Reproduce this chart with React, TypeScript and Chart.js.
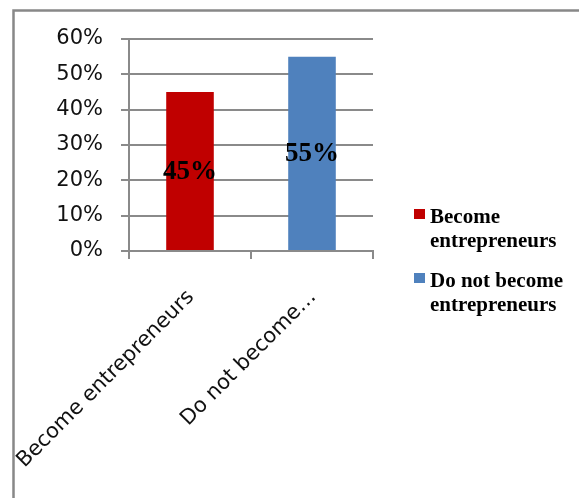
import React, { useEffect, useRef } from "react";
import { Chart, registerables } from "chart.js";

Chart.register(...registerables);

const categories = ["Become entrepreneurs", "Do not become entrepreneurs"];
const tickLabels = ["Become entrepreneurs", "Do not become…"];
const values = [0.45, 0.55];
const valueLabels = ["45%", "55%"];
const colors = ["#C00000", "#4F81BD"];
const legendLines = [["Become", "entrepreneurs"], ["Do not become", "entrepreneurs"]];

const GRID = "#8a8a8a";

const framePlugin = {
  id: "frame",
  beforeDraw(chart: any) {
    const ctx = chart.ctx;
    ctx.save();
    ctx.fillStyle = "#ffffff";
    ctx.fillRect(0, 0, chart.width, chart.height);
    ctx.strokeStyle = "#888888";
    ctx.lineWidth = 2.5;
    ctx.beginPath();
    ctx.moveTo(13.5, chart.height);
    ctx.lineTo(13.5, 10.5);
    ctx.lineTo(chart.width + 5, 10.5);
    ctx.stroke();
    ctx.restore();
  },
};

const valueLabelPlugin = {
  id: "valueLabels",
  afterDatasetsDraw(chart: any) {
    const ctx = chart.ctx;
    const meta = chart.getDatasetMeta(0);
    ctx.save();
    ctx.font = "bold 27px 'Liberation Serif', 'Times New Roman', serif";
    ctx.fillStyle = "#000000";
    ctx.textAlign = "center";
    ctx.textBaseline = "middle";
    meta.data.forEach((bar: any, i: number) => {
      ctx.fillText(valueLabels[i], bar.x, (bar.y + bar.base) / 2 + 1);
    });
    ctx.restore();
  },
};

const legendPlugin = {
  id: "customLegend",
  afterDraw(chart: any) {
    const ctx = chart.ctx;
    const area = chart.chartArea;
    const x0 = area.right + 41;
    const tops = [area.top + 170, area.top + 234];
    ctx.save();
    ctx.font = "bold 21px 'Liberation Serif', 'Times New Roman', serif";
    ctx.textBaseline = "alphabetic";
    ctx.textAlign = "left";
    legendLines.forEach((lines, i) => {
      ctx.fillStyle = colors[i];
      ctx.fillRect(x0, tops[i], 11, 10);
      ctx.fillStyle = "#000000";
      lines.forEach((line, j) => {
        ctx.fillText(line, x0 + 16, tops[i] + 14 + j * 24);
      });
    });
    ctx.restore();
  },
};

export default function App() {
  const ref = useRef<HTMLCanvasElement | null>(null);
  useEffect(() => {
    document.body.style.margin = "0";
    const canvas = ref.current!;
    const chart = new Chart(canvas, {
      type: "bar",
      data: {
        labels: categories,
        datasets: [
          {
            data: values,
            backgroundColor: colors,
            borderWidth: 0,
            categoryPercentage: 1,
            barPercentage: 0.39,
          },
        ],
      },
      options: {
        responsive: false,
        animation: false,
        devicePixelRatio: 1,
        layout: { padding: { top: 39, right: 206, left: 0, bottom: 0 } },
        plugins: {
          legend: { display: false },
          tooltip: { enabled: false },
        },
        scales: {
          x: {
            grid: {
              offset: true,
              drawOnChartArea: false,
              drawTicks: true,
              tickLength: 8,
              color: GRID,
              lineWidth: 2,
            },
            border: { display: true, color: GRID, width: 2 },
            ticks: {
              autoSkip: false,
              minRotation: 45,
              maxRotation: 45,
              padding: 26,
              labelOffset: 1,
              color: "#111111",
              font: { family: "'DejaVu Sans', sans-serif", size: 21 },
              callback: (_v: any, i: number) => tickLabels[i],
            },
            afterFit: (scale: any) => {
              scale.height = 247;
              scale.paddingLeft = 0;
              scale.paddingRight = 0;
            },
          },
          y: {
            min: 0,
            max: 0.6,
            grid: {
              color: GRID,
              lineWidth: 2,
              tickLength: 8,
              drawTicks: true,
            },
            border: { display: true, color: GRID, width: 2 },
            ticks: {
              stepSize: 0.1,
              padding: 18,
              color: "#111111",
              font: { family: "'DejaVu Sans', sans-serif", size: 21 },
              callback: (v: any) => Math.round(Number(v) * 100) + "%",
            },
            afterFit: (scale: any) => {
              scale.width = 129;
              scale.paddingTop = 0;
              scale.paddingBottom = 0;
            },
          },
        },
      },
      plugins: [framePlugin, valueLabelPlugin, legendPlugin],
    });
    return () => chart.destroy();
  }, []);
  return (
    <div style={{ width: 579, height: 498 }}>
      <canvas ref={ref} width={579} height={498} style={{ display: "block" }} />
    </div>
  );
}
